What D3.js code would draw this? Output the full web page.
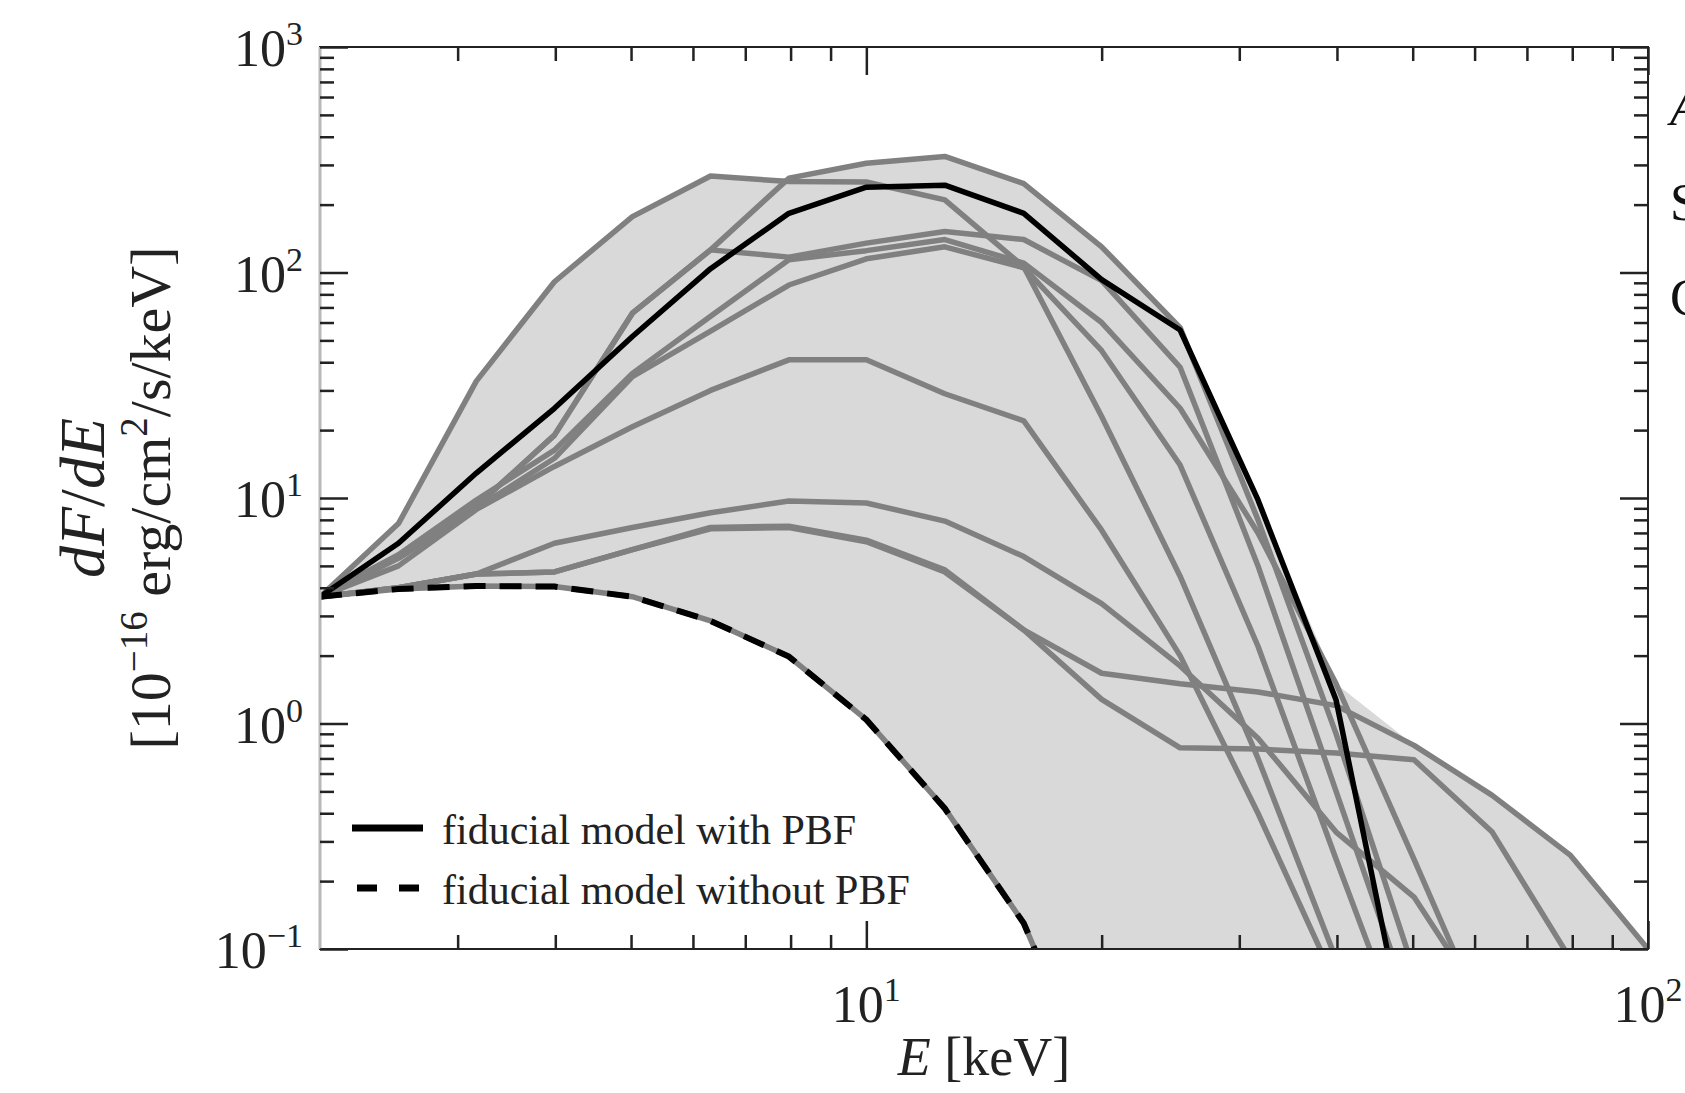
<!DOCTYPE html>
<html>
<head>
<meta charset="utf-8">
<script src="https://cdn.jsdelivr.net/npm/d3@7"></script>
<style>
body { margin: 0; background: #fff; overflow: hidden; }
svg { display: block; font-family: "Liberation Serif", serif; }
</style>
</head>
<body>
<div id="vis-container"></div>
<script>
// energy grid shared by every model curve [keV]
var energy = [2, 2.52, 3.17, 3.99, 5.02, 6.32, 7.96, 10.0, 12.6, 15.9, 20.0, 25.2, 31.7, 39.9, 50.2, 63.2, 79.6, 100];

// fiducial models (dF/dE in 1e-16 erg/cm^2/s/keV)
var withPBF    = [3.65, 6.3, 12.9, 25, 52, 104, 183, 239, 244, 183, 93, 55.6, 9.8, 1.27, 0.026];
var withoutPBF = [3.65, 3.95, 4.07, 4.05, 3.65, 2.85, 1.98, 1.04, 0.42, 0.13, 0.02];

// other models (grey)
var modelA = [3.65, 7.7, 33, 91, 177, 268, 253, 252, 210, 106, 23, 4.5, 0.7, 0.09];
var modelB = [3.65, 5.5, 9.2, 19, 66, 126, 262, 305, 327, 248, 130, 57, 8, 0.9, 0.08];
var modelC = [3.65, 5.5, 9.2, 19, 66, 126, 117, 135, 152, 140, 92, 38, 5, 0.5, 0.05];
var modelD = [3.65, 5.6, 9.8, 16.3, 35.7, 64, 114, 125, 140, 110, 60, 25, 7, 1.5, 0.25, 0.04];
var modelE = [3.65, 5.4, 9.0, 15, 34.5, 55, 88, 115, 130, 105, 45, 14, 2.2, 0.25, 0.03];
var modelF = [3.65, 5.0, 8.9, 13.8, 20.7, 30, 41, 41, 29, 22, 7.2, 2.0, 0.4, 0.07];
var modelG = [3.65, 4.0, 4.6, 6.3, 7.4, 8.6, 9.7, 9.5, 7.9, 5.5, 3.4, 1.8, 0.86, 0.33, 0.17, 0.05];
var modelH = [3.65, 4.0, 4.6, 4.7, 5.9, 7.4, 7.5, 6.5, 4.8, 2.6, 1.67, 1.5, 1.38, 1.2, 0.8, 0.48, 0.26, 0.10];
var modelI = [3.65, 4.0, 4.6, 4.7, 5.9, 7.3, 7.4, 6.4, 4.7, 2.6, 1.28, 0.78, 0.77, 0.74, 0.69, 0.33, 0.09];
var greyModels = [modelA, modelB, modelC, modelD, modelE, modelF, modelG, modelH, modelI];

// ticks
var xMajor = [10, 100];
var xMinor = [3, 4, 5, 6, 7, 8, 9, 20, 30, 40, 50, 60, 70, 80, 90];
var xLabels = [["10", "1"], ["10", "2"]];
var yMajor = [0.1, 1, 10, 100, 1000];
var yLabels = [["10", "\u22121"], ["10", "0"], ["10", "1"], ["10", "2"], ["10", "3"]];
var yMinor = [];
[0.1, 1, 10, 100].forEach(function (d) {
	for (var k = 2; k <= 9; k++) yMinor.push(+(k * d).toPrecision(3));
});

var legendItems = ["fiducial model with PBF", "fiducial model without PBF"];

// Set the dimensions of the chart
var margin = { top: 47, right: 37, bottom: 144, left: 320 };
var width = 1685 - margin.left - margin.right;
var height = 1093 - margin.top - margin.bottom;

var svgRoot = d3.select("#vis-container")
	.append("svg")
	.attr("width", 1685)
	.attr("height", 1093)
	.style("background", "#fff");
var svg = svgRoot.append("g")
	.attr("transform", "translate(" + margin.left + "," + margin.top + ")");

var xScale = d3.scaleLog().domain([2, 100]).range([0, width]);
var yScale = d3.scaleLog().domain([0.1, 1000]).range([height, 0]);

svg.append("clipPath").attr("id", "clip")
	.append("rect").attr("width", width).attr("height", height);

function pts(arr) {
	return arr.map(function (v, i) { return { e: energy[i], v: v }; })
		.filter(function (d) { return d.v != null; });
}

var line = d3.line()
	.x(function (d) { return xScale(d.e); })
	.y(function (d) { return yScale(d.v); });

// shaded band: between the highest model and the no-PBF model
var allModels = greyModels.concat([withPBF]);
var band = energy.map(function (e, i) {
	var hi = d3.max(allModels, function (m) { return m[i]; });
	var lo = withoutPBF[i] != null ? withoutPBF[i] : yScale.domain()[0];
	return { e: e, hi: hi, lo: lo };
});

var plot = svg.append("g").attr("clip-path", "url(#clip)");

plot.append("path")
	.datum(band)
	.attr("fill", "#d9d9d9")
	.attr("d", d3.area()
		.x(function (d) { return xScale(d.e); })
		.y0(function (d) { return yScale(d.lo); })
		.y1(function (d) { return yScale(d.hi); }));

plot.selectAll(".grey")
	.data(greyModels)
	.enter().append("path")
	.attr("class", "grey")
	.attr("fill", "none")
	.attr("stroke", "#808080")
	.attr("stroke-width", 5.5)
	.attr("stroke-linejoin", "round")
	.attr("d", function (d) { return line(pts(d)); });

// no-PBF model: grey line with black dashes on top
plot.append("path")
	.attr("fill", "none")
	.attr("stroke", "#808080")
	.attr("stroke-width", 5.5)
	.attr("d", line(pts(withoutPBF)));
plot.append("path")
	.attr("fill", "none")
	.attr("stroke", "#000")
	.attr("stroke-width", 6)
	.attr("stroke-dasharray", "22,14")
	.attr("d", line(pts(withoutPBF)));

plot.append("path")
	.attr("fill", "none")
	.attr("stroke", "#000")
	.attr("stroke-width", 5.5)
	.attr("stroke-linejoin", "round")
	.attr("d", line(pts(withPBF)));

// frame
svg.append("rect")
	.attr("width", width).attr("height", height)
	.attr("fill", "none").attr("stroke", "#222").attr("stroke-width", 2);
svg.append("line")
	.attr("x1", 0).attr("x2", 0).attr("y1", 0).attr("y2", height)
	.attr("stroke", "#b8b8b8").attr("stroke-width", 3);

// ticks on all four sides, pointing inward
function ticks(g, axis, vals, size) {
	g.call(axis.tickValues(vals).tickSize(-size).tickFormat(""));
	g.select(".domain").remove();
	g.selectAll(".tick line").attr("stroke", "#222").attr("stroke-width", 2.5);
}
[[xMinor, 14], [xMajor, 28]].forEach(function (t) {
	svg.append("g").attr("transform", "translate(0," + height + ")")
		.call(ticks, d3.axisBottom(xScale), t[0], t[1]);
	svg.append("g").call(ticks, d3.axisTop(xScale), t[0], t[1]);
});
[[yMinor, 14], [yMajor, 28]].forEach(function (t) {
	svg.append("g").call(ticks, d3.axisLeft(yScale), t[0], t[1]);
	svg.append("g").attr("transform", "translate(" + width + ",0)")
		.call(ticks, d3.axisRight(yScale), t[0], t[1]);
});

// tick labels
var xl = svg.selectAll(".xlab").data(xMajor).enter().append("text")
	.attr("class", "xlab")
	.attr("x", function (d) { return xScale(d); })
	.attr("y", height + 73)
	.attr("text-anchor", "middle")
	.style("font-size", "52px")
	.style("fill", "#222");
xl.append("tspan").text(function (d, i) { return xLabels[i][0]; });
xl.append("tspan").attr("dy", -21).style("font-size", "34px").text(function (d, i) { return xLabels[i][1]; });

var yl = svg.selectAll(".ylab").data(yMajor).enter().append("text")
	.attr("class", "ylab")
	.attr("x", -17)
	.attr("y", function (d) { return yScale(d) + 19; })
	.attr("text-anchor", "end")
	.style("font-size", "52px")
	.style("fill", "#222");
yl.append("tspan").text(function (d, i) { return yLabels[i][0]; });
yl.append("tspan").attr("dy", -21).style("font-size", "34px").text(function (d, i) { return yLabels[i][1]; });

// axis titles
var xt = svg.append("text")
	.attr("x", width / 2)
	.attr("y", height + 126)
	.attr("text-anchor", "middle")
	.style("font-size", "54px")
	.style("fill", "#222");
xt.append("tspan").style("font-style", "italic").text("E");
xt.append("tspan").text(" [keV]");

var yt1 = svgRoot.append("text")
	.attr("transform", "translate(104," + (margin.top + height / 2) + ") rotate(-90)")
	.attr("text-anchor", "middle")
	.style("font-size", "64px")
	.style("fill", "#222");
yt1.append("tspan").style("font-style", "italic").text("dF");
yt1.append("tspan").text("/");
yt1.append("tspan").style("font-style", "italic").text("dE");

var yt2 = svgRoot.append("text")
	.attr("transform", "translate(170," + (margin.top + height / 2) + ") rotate(-90)")
	.attr("text-anchor", "middle")
	.style("font-size", "58px")
	.style("fill", "#222");
yt2.append("tspan").text("[10");
yt2.append("tspan").attr("dy", -23).style("font-size", "39px").text("\u221216");
yt2.append("tspan").attr("dy", 23).text(" erg/cm");
yt2.append("tspan").attr("dy", -23).style("font-size", "39px").text("2");
yt2.append("tspan").attr("dy", 23).text("/s/keV]");

// legend
var legend = svg.append("g").attr("transform", "translate(32," + (height - 121) + ")");
legendItems.forEach(function (name, i) {
	var gy = i * 60;
	legend.append("line")
		.attr("x1", 0).attr("x2", 71).attr("y1", gy).attr("y2", gy)
		.attr("stroke", "#000").attr("stroke-width", 7)
		.attr("stroke-dasharray", i === 1 ? "20,22" : null)
		.attr("transform", i === 1 ? "translate(5,0)" : null);
	legend.append("text")
		.attr("x", 90).attr("y", gy + 16)
		.style("font-size", "42px")
		.style("fill", "#222")
		.text(name);
});

// cut-off text from the neighbouring column (clipped by the page edge, as in the source)
var side = ["A", "S", "C"];
svgRoot.selectAll(".side").data(side).enter().append("text")
	.attr("x", 1670)
	.attr("y", function (d, i) { return 125 + i * 95; })
	.style("font-size", "52px")
	.style("font-style", function (d, i) { return i === 0 ? "italic" : "normal"; })
	.style("fill", "#111")
	.text(function (d) { return d; });
</script>
</body>
</html>
